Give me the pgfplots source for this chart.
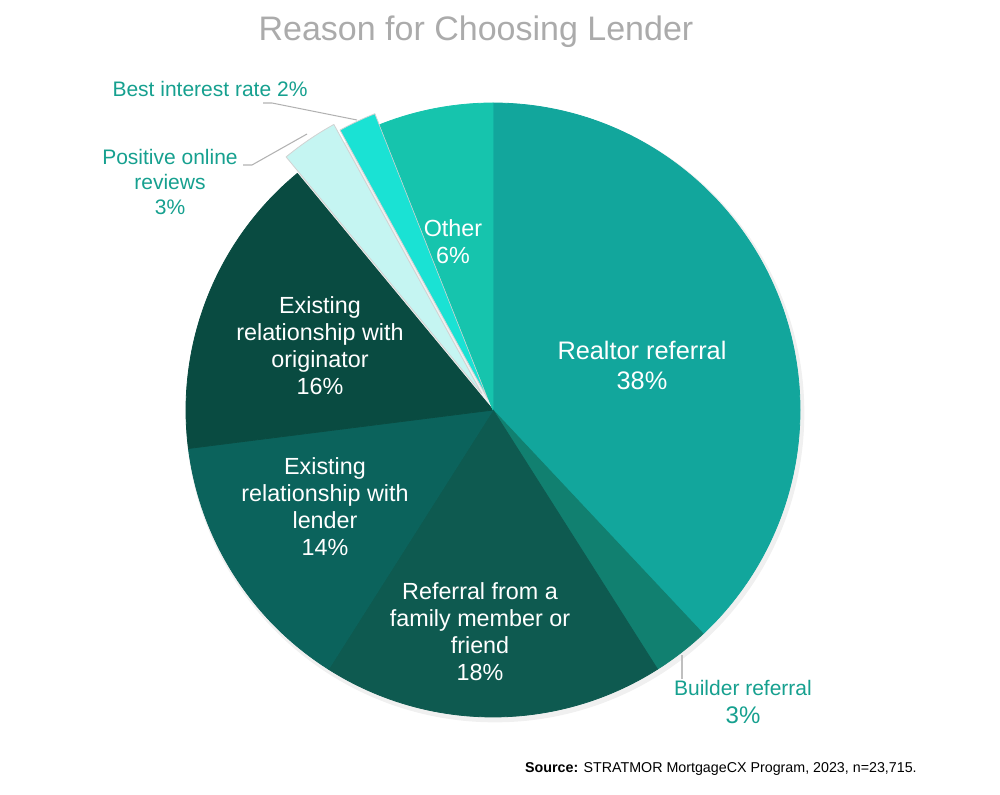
\documentclass[border=0pt]{standalone}
\usepackage{fontspec}
\setmainfont{Liberation Sans}
\usepackage{pgfplots}
\pgfplotsset{compat=1.18}
\usepackage{pgfplotstable}

\definecolor{cRealtor}{HTML}{12A69C}
\definecolor{cBuilder}{HTML}{118070}
\definecolor{cFamily}{HTML}{0E5A50}
\definecolor{cLender}{HTML}{0B635C}
\definecolor{cOrig}{HTML}{094B41}
\definecolor{cReview}{HTML}{C5F5F2}
\definecolor{cRate}{HTML}{1AE2D4}
\definecolor{cOther}{HTML}{16C4AD}
\definecolor{cLabel}{HTML}{16A08F}
\definecolor{cTitle}{HTML}{ABABAB}
\definecolor{cEdge}{HTML}{D2D2D2}

% share of each reason, clockwise from 12 o'clock; explode in px
\pgfplotstableread[col sep=comma]{
name,value,explode,fillc,edge
Realtor referral,38,0,cRealtor,cRealtor
Builder referral,3,0,cBuilder,cBuilder
Referral from a family member or friend,18,0,cFamily,cFamily
Existing relationship with lender,14,0,cLender,cLender
Existing relationship with originator,16,0,cOrig,cOrig
Positive online reviews,3,20,cReview,cEdge
Best interest rate,2,12,cRate,cEdge
Other,6,0,cOther,cOther
}\piedata

\def\pieR{230.25pt}

\begin{document}
\begin{tikzpicture}
\begin{axis}[
    x=0.75pt, y=0.75pt,
    xmin=0, xmax=1000, ymin=0, ymax=794,
    scale only axis, hide axis, clip=false,
  ]
  \path (axis cs:0,0) rectangle (axis cs:1000,794);

  % faint shadow under the pie
  \fill[black, opacity=0.06] (axis cs:495,381) circle[radius=232pt];

  \gdef\angA{90}
  \pgfplotsinvokeforeach{0,...,7}{
    \pgfplotstablegetelem{#1}{value}\of\piedata \let\val\pgfplotsretval
    \pgfplotstablegetelem{#1}{explode}\of\piedata \let\ex\pgfplotsretval
    \pgfplotstablegetelem{#1}{fillc}\of\piedata \let\fc\pgfplotsretval
    \pgfplotstablegetelem{#1}{edge}\of\piedata \let\ec\pgfplotsretval
    \pgfmathsetmacro\angB{\angA-3.6*\val}
    \pgfmathsetmacro\angM{(\angA+\angB)/2}
    \pgfmathsetmacro\cx{493+\ex*cos(\angM)}
    \pgfmathsetmacro\cy{384+\ex*sin(\angM)}
    \edef\slice{\noexpand\filldraw[fill=\fc, draw=\ec, line width=0.6pt, line join=round]
      (axis cs:\cx,\cy) -- ++(\angA:\pieR) arc[start angle=\angA, end angle=\angB, radius=\pieR] -- cycle;}
    \slice
    \xdef\angA{\angB}
  }

  % leader lines
  \draw[black!30, line width=0.8pt] (axis cs:263,691) -- (axis cs:272,691) -- (axis cs:357,674);
  \draw[black!30, line width=0.8pt] (axis cs:243,629) -- (axis cs:252,629) -- (axis cs:307,660);
  \draw[black!25, line width=0.8pt] (axis cs:682,139) -- (axis cs:682,115);

  % title
  \node[text=cTitle, font={\fontsize{25.5}{30}\selectfont}, inner sep=0] at (axis cs:476,762) {Reason for Choosing Lender};

  % labels inside
  \begin{scope}[every node/.style={text=white, align=center, inner sep=0, font={\fontsize{17.5}{20.25}\selectfont}}]
    \node[font={\fontsize{19}{22.5}\selectfont}] at (axis cs:642,429) {Realtor referral\\38\%};
    \node at (axis cs:453,552) {Other\\6\%};
    \node at (axis cs:320,448) {Existing\\relationship with\\originator\\16\%};
    \node at (axis cs:325,287) {Existing\\relationship with\\lender\\14\%};
    \node at (axis cs:480,162) {Referral from a\\family member or\\friend\\18\%};
  \end{scope}

  % labels outside
  \begin{scope}[every node/.style={text=cLabel, align=center, inner sep=0, font={\fontsize{15.75}{18.75}\selectfont}}]
    \node at (axis cs:743,106) {Builder referral};
    \node[font={\fontsize{18}{21}\selectfont}] at (axis cs:743,79) {3\%};
    \node at (axis cs:210,705) {Best interest rate 2\%};
    \node at (axis cs:170,612) {Positive online\\reviews\\3\%};
  \end{scope}

  % source
  \node[anchor=base east, inner sep=0, font={\fontsize{10.7}{12}\selectfont}] at (axis cs:917,22)
    {\textbf{Source:} STRATMOR MortgageCX Program, 2023, n=23,715.};
\end{axis}
\end{tikzpicture}
\end{document}
